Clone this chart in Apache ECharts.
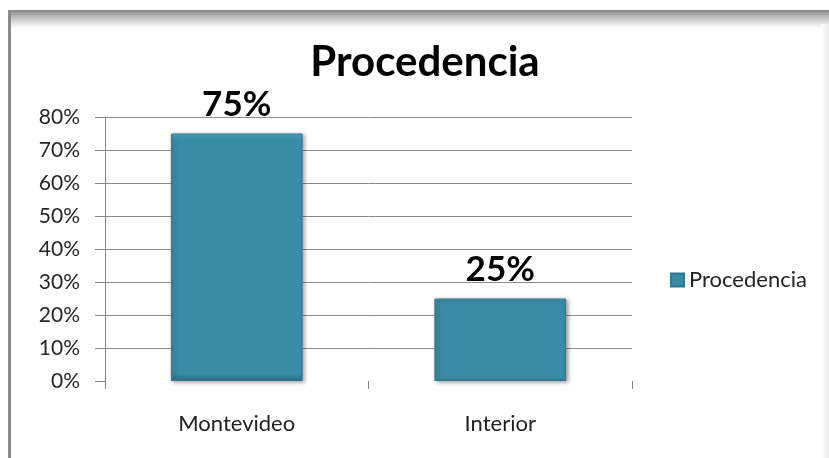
<!DOCTYPE html>
<html>
<head>
<meta charset="utf-8">
<script src="https://cdn.jsdelivr.net/npm/echarts@6/dist/echarts.min.js"></script>
<style>
  html, body { margin: 0; padding: 0; background: #fff; }
  #chart { width: 829px; height: 458px; }
</style>
</head>
<body>
<div id="chart"></div>
<script>
// datos
var categorias = ['Montevideo', 'Interior'];
var valores = [0.75, 0.25];
var serieNombre = 'Procedencia';
var titulo = 'Procedencia';

var chart = echarts.init(document.getElementById('chart'), null, { renderer: 'canvas' });

var fuente = 'Lato';

var option = {
  backgroundColor: '#ffffff',
  animation: false,
  title: {
    text: titulo,
    left: 420,
    textAlign: 'center',
    top: 36,
    textStyle: {
      fontFamily: fuente,
      fontWeight: 'bold',
      fontSize: 42,
      color: '#000'
    }
  },
  // marco de la imagen original
  graphic: [
    {
      type: 'rect',
      shape: { x: 8, y: 10, width: 821, height: 18 },
      style: {
        fill: new echarts.graphic.LinearGradient(0, 0, 0, 1, [
          { offset: 0, color: '#868686' },
          { offset: 0.35, color: '#b8b8b8' },
          { offset: 1, color: '#ffffff' }
        ])
      },
      silent: true
    },
    {
      type: 'rect',
      shape: { x: 8, y: 10, width: 3, height: 448 },
      style: { fill: '#8a8a8a' },
      silent: true
    },
    {
      type: 'rect',
      shape: { x: 821, y: 24, width: 8, height: 434 },
      style: {
        fill: new echarts.graphic.LinearGradient(0, 0, 1, 0, [
          { offset: 0, color: '#ffffff' },
          { offset: 1, color: '#ececec' }
        ])
      },
      silent: true
    }
  ],
  legend: {
    data: [serieNombre],
    left: 665,
    top: 264,
    icon: 'rect',
    itemWidth: 13,
    itemHeight: 13,
    itemGap: 6,
    textStyle: {
      fontFamily: fuente,
      fontSize: 22,
      color: '#222'
    }
  },
  grid: {
    left: 105,
    right: 197,
    top: 117,
    bottom: 77,
    containLabel: false
  },
  xAxis: {
    type: 'category',
    data: categorias,
    axisLine: { show: false },
    axisTick: {
      show: true,
      length: 8,
      lineStyle: { color: '#868686' }
    },
    axisLabel: {
      margin: 32,
      fontFamily: fuente,
      fontSize: 22,
      color: '#222'
    }
  },
  yAxis: {
    type: 'value',
    min: 0,
    max: 0.8,
    interval: 0.1,
    axisLine: {
      show: true,
      lineStyle: { color: '#868686' }
    },
    axisTick: {
      show: true,
      length: 10,
      lineStyle: { color: '#868686' }
    },
    axisLabel: {
      margin: 25,
      fontFamily: fuente,
      fontSize: 21,
      color: '#262626',
      formatter: function (v) { return Math.round(v * 100) + '%'; }
    },
    splitLine: {
      show: true,
      showMinLine: false,
      lineStyle: { color: '#8c8c8c' }
    }
  },
  series: [{
    name: serieNombre,
    type: 'bar',
    data: valores,
    barWidth: '50%',
    itemStyle: {
      color: new echarts.graphic.LinearGradient(0, 0, 0, 1, [
        { offset: 0, color: '#4aa6c2' },
        { offset: 0.03, color: '#3a8ca6' },
        { offset: 0.97, color: '#3a8ca6' },
        { offset: 1, color: '#2d6f84' }
      ]),
      borderColor: '#2f7890',
      borderWidth: 1,
      shadowColor: 'rgba(0,0,0,0.35)',
      shadowBlur: 4,
      shadowOffsetX: 2,
      shadowOffsetY: 1
    },
    label: {
      show: true,
      position: 'top',
      distance: 11,
      fontFamily: fuente,
      fontWeight: 'bold',
      fontSize: 35,
      color: '#000',
      formatter: function (p) { return Math.round(p.value * 100) + '%'; }
    }
  }]
};

chart.setOption(option);
</script>
</body>
</html>
